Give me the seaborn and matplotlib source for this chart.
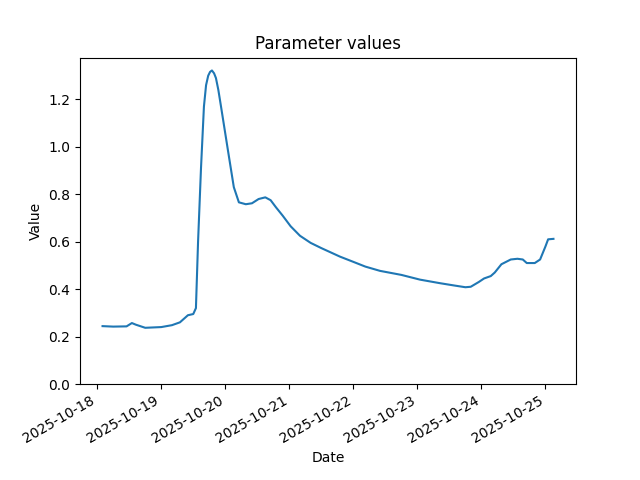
import matplotlib
matplotlib.use('Agg')
import matplotlib.pyplot as plt
import pandas as pd
import seaborn as sns

START = '2025-10-18 00:00'
# hours since START
hours = [2, 6, 11, 13, 14.5, 18, 24, 28, 31, 33, 34, 36, 37, 37.8, 38.9, 40, 40.8, 41.6, 42.3,
         43, 43.8, 44.5, 45.4, 46.4, 49, 51.2, 53.1, 55.7, 58, 60.5, 63, 65, 67, 69.5, 72.5,
         76, 80, 84, 87.5, 91, 96, 100.5, 106, 114, 121, 128.5, 134, 138, 140, 143, 145,
         147.5, 149, 151.5, 155, 157.5, 159.5, 161, 164, 166, 168, 169, 171]
values = [0.244, 0.242, 0.243, 0.257, 0.25, 0.237, 0.24, 0.248, 0.26, 0.28, 0.29, 0.295, 0.32,
          0.6, 0.91, 1.17, 1.26, 1.3, 1.316,
          1.322, 1.31, 1.29, 1.24, 1.17, 0.985, 0.83, 0.766, 0.758, 0.762, 0.78, 0.787,
          0.775, 0.745, 0.71, 0.665,
          0.625, 0.595, 0.573, 0.555, 0.537, 0.515, 0.495, 0.477, 0.46, 0.44, 0.425, 0.415,
          0.408, 0.41, 0.43, 0.445,
          0.455, 0.47, 0.505, 0.525, 0.528, 0.525, 0.51, 0.51, 0.525, 0.58, 0.61, 0.612]

df = pd.DataFrame({
    'Date': pd.Timestamp(START) + pd.to_timedelta(hours, unit='h'),
    'Value': values,
})

fig, ax = plt.subplots(figsize=(6.4, 4.8), dpi=100)
sns.lineplot(data=df, x='Date', y='Value', ax=ax, color='#1f77b4', linewidth=1.5)
ax.set_ylim(bottom=0)
ax.set_title('Parameter values')
ax.set_xlabel('Date')
ax.set_ylabel('Value')
fig.autofmt_xdate()
fig.savefig('out.png')
